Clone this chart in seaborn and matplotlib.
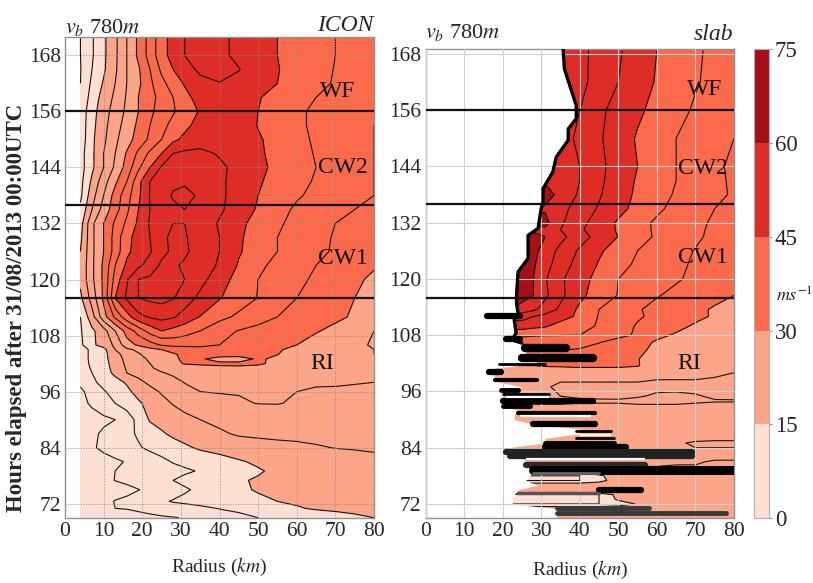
import numpy as np
import matplotlib
matplotlib.use("Agg")
import matplotlib.pyplot as plt
from matplotlib.colors import ListedColormap, BoundaryNorm
import seaborn as sns

radius = [4,7,10,13,16,19,22,25,28,31,35,40,45,50,55,60,65,70,75,80]
band_edges = [0,15,30,45,60,75]
line_levels = [5,10,15,20,25,30,35,40,45,50,55,60,65,70]
band_colors = ["#fee0d2","#fca588","#fb6a4a","#de2d26","#a50f15"]
xticks = [0,10,20,30,40,50,60,70,80]
yticks = [72,84,96,108,120,132,144,156,168]
phase_hours = [156,136,116]

icon_hours = [69,71,72.5,75,77,79,81,84,87,90,93.5,96,98,100,101,102,103,104,105,106,109,112,116,120,123,126,129,132,135,138,141,144,147,150,153,156,159,162,165,168,172]
icon_speed = [
 [1,1.5,2,2.5,3,3.5,4,4.5,4.8,5.2,6,7.5,8.8,10,10.8,11.5,12.2,13,14,15],
 [1.5,2.5,3.6,5,5.2,5.8,6.5,7,7.5,8,9,10.2,11,12,13,14.6,15.5,16,16.5,17],
 [1.5,2.5,3.7,5.2,5.8,6.4,7.5,9.2,10.4,11,11.6,12.3,13,13.8,15,15.6,16.2,16.7,17.2,17.7],
 [1.5,2,2.7,3.3,4,4.9,5.8,6.8,7.8,9.5,10.8,12.3,14,15.5,16,16.5,17,17.5,18,18.5],
 [1.5,2.5,4,5.1,5.8,6.6,7.8,9,10,11,12,13,14.5,15.5,16.2,16.8,17.3,17.8,18.3,18.7],
 [1.5,2.5,3.5,5,5.5,6.2,7,7.8,8.5,9.4,10.3,11.5,12.7,14.5,16,16.7,17.2,17.7,18.2,18.6],
 [1.5,2.5,3.3,4.3,5.3,6.6,7.8,9,10.3,11,11.8,12.8,14.5,15.8,16.5,17,17.5,18,18.5,19],
 [2,4.4,6,7.2,8.4,9.6,10.8,11.8,12.8,14.2,15.7,17,17.8,18.3,18.8,19.2,19.7,20.1,20.3,20.5],
 [2,4,5.8,7.5,9,10.5,12.5,14.4,16,17,18,19.4,20.5,20.8,21,21,21,21,21,21],
 [2,3,4,5,7.5,11.5,15.5,16.7,17.5,18.5,20,21,22,22,22,22,22,21.5,21.5,21.5],
 [3.5,5.8,8,10,12,14.3,16.5,18.5,20.3,22,23.5,24,24.6,25.1,25.2,24.5,24,23.5,23,22.5],
 [4,7,9.5,12,14,16.5,18.5,20.5,21.8,23.5,25,25.2,25.2,25.1,25.3,25,24.5,24.5,24,23.5],
 [6,9,11.5,13.5,15.5,18.8,21,22.5,23.5,25.2,26,26,26,26,25.8,25.5,25.5,25.4,25.3,25],
 [7,10,13,16,20,21.5,23,24.7,25.8,26.5,27.5,28,27.5,27.5,27,26.8,26.5,26.5,26,25.5],
 [7.5,10.5,13.2,16.5,20.5,22,24.5,26,27,27.5,28,29,29.2,28.6,28,27.5,27,26.5,26,25.5],
 [8,10.8,13.3,17,21,23,25,27,29,30.3,30.8,30.8,30.8,30.6,29,27.8,27.2,26.6,26,25.3],
 [8,11,13.5,17.5,21.5,24,25.5,27.5,29.5,30.5,30.5,28.5,28.5,30.5,29.3,28,27.5,26.8,26,25.2],
 [8,11,13.5,18,22.5,24.5,27,28.5,29.5,31,32,32,31.5,31,30.1,28.5,27.5,26.8,26,25],
 [8,11,13.5,20,24,26,28.5,30,31.5,32,33.5,33,32.5,31.5,30.4,29,28,27,26,25],
 [9,14,17,21,28,30.7,33,35.5,36.5,36.5,36,35,33.5,32.5,31.5,30,28.5,27.5,26,24.5],
 [9.5,14,18,25,32,37,42,45,43.5,42,40,36.5,34.8,33.5,32.5,31.5,30.3,29,27.5,25],
 [10,18,28,36,43,48.5,50.5,51.5,50.5,48,44.8,41.5,39,37,35,33.5,32,30.8,29.5,27],
 [14,22,31,45,50.7,55,56,56.5,55.3,52.5,48.8,45.3,42.5,39.8,37.3,35,33.5,32,30,28],
 [16,24,31,42,49.5,55,56,57,56,55,51.5,47.5,43,40,38,35.7,34.5,33,31,29],
 [16,24,31,40,46,49,52,56,56,54,52,49.5,44.5,41,38.7,36.7,35,33.5,32,30.5],
 [15,24,30,37,44,47,49.5,53.5,56,56,52.5,50,45.5,42.5,40,38,36,34.5,33,32],
 [14,24,30,37,43.5,47,50,54,56,55.5,52.5,50,45.7,42.8,40,38,36,34.7,33.5,32.5],
 [13,24,30,36,41,46,50.5,52.5,55,55,53,49.5,46,43.5,40.5,39,37.5,35,34,33],
 [11,20,27,33,39,45,50,52.5,54,55,53.5,50.8,47.5,44.5,41.5,39.3,37.5,36,35,33.5],
 [9,18,25,32,38,44,50.3,53,55.5,56,54.5,51,48,45,43,40.5,39,37.5,36.5,35],
 [8.5,16,23,29,35,43.5,50,52,54,54.5,54,51,48,45.5,43.5,41.5,39.5,38,37,35],
 [8,14,20,26,32,39,45,50.5,52.5,54,54,51,48.5,46,44,42,40,38.5,37,35],
 [8,14,20,25,30.5,36,41,45,50,51,51.3,49.5,47.5,45.7,43.7,41.5,39.7,38.5,37,35],
 [7,14,19,24,28,32,36,40,44,46,47.5,49,48,45.5,43.5,41,39.5,38.5,37,35],
 [7,13.5,18.5,23,27,31,35,38.5,41.5,44,46.5,48.5,47.5,44.8,43,41,39,38,37,35],
 [7,13,18,22,26,30,34,37,39.5,42,45.5,48,47,45,43,41,39,38,37,35.5],
 [6,12,17,21,25.5,30,33.5,36.5,40,43.5,47,49,47,45.3,43.5,41.8,40,38.5,37.5,36.5],
 [5,11,15.5,20,25,29,34,38.5,42.5,45.5,48.5,49.8,48.5,46.5,45,43,41.5,39.5,38.5,37],
 [4.8,10,14.3,19.2,25,29.3,35,41,45,48,51,52,50.2,47.5,45.2,43.5,41.5,39.8,38.5,37],
 [5,9.5,14,19,25,31,37,43,47,50,52,51,49,47,45,43.5,41.5,40,38,37],
 [5,9.5,14,19,25,31,37,43,47,50,52,51,49,47,45,43.5,41.5,40,38,37],
]

slab_hours = [69,70,70.5,71,72,73,74,74.5,76,77,78,79,81,82,83,85,86,92.5,94,95,97,100,101.5,103,105,106.5,108,110,112,113.5,116.5,120,123,126,129,130.5,132,135,138,141,144,150,156,162,169]
slab_speed = [
 [19,19,19,19,19,19,19,19,19,19,19,19,19,19,19,19,19,19,19,19],
 [13,13,13,13,13,13,13,13,13,13,13,13,14,18,19,19,19,19,19,19],
 [12,12,12,12,12,12,12,12,12,12,12,12,13,14,18,19,19,19,19,19],
 [19,19,19,19,19,19,19,19,19,19,19,19,19,19,19,19,19,19,19,19],
 [10,10,10,10,10,10,10,10,10,10,10,10,10,12,15.5,19,19,19,19,19],
 [9,9,9,9,9,9,9,9,9,9,9,9,10,16,19,19,19,19,19,19],
 [9,9,9,9,9,9,9,9,9,9,9,9,10,17,19,19,19,19,19,19],
 [19,19,19,19,19,19,19,19,19,19,19,19,19,19,19,19,19,19,19,19],
 [19,19,19,19,19,19,19,19,19,19,19,19,19,19,19,19,19,19,19,19],
 [10,10,10,10,10,10,10,10,10,10,10,10,13,18,19,19,19,19,19,19],
 [10,10,10,10,10,10,10,10,10,10,10,10,14,18,19,19,19,19,19,19],
 [19,19,19,19,19,19,19,19,19,19,19,19,19,19,19,19,19,19,19,19],
 [21,21,21,21,21,21,21,21,21,21,21,21,21,21,21,21,20.5,20.5,19.5,19.5],
 [21,21,21,21,21,21,21,21,21,21,21,21,21,21,21,21,21,21,21,21],
 [21,21,21,21,21,21,21,21,21,21,21,21,21,21,21,21,21,21,21,21],
 [22,22,22,22,22,22,22,22,22,22,22,22,22,22,22,22,21,19,19,19],
 [22,22,22,22,22,22,22,22,22,22,22,22,22,22,22,22,22,22,21,21],
 [24,24,24,24,24,24,24,24,24,24,24,24,24,24,24,24,24,24,24,24],
 [26,26,26,26,26,26,26,26,26,26,26,25.5,25.5,25.5,26,26,26,25.5,25.2,25.2],
 [26,26,26,26,26,26,26,26,26,26,25,24.5,24.2,24,24.6,25.6,25.8,25.3,24.5,24.3],
 [26,26,26,26,26,26,26,26,25.6,25.3,24.5,24,24,24,24,24,24,24,24,24],
 [26,26,26,26,26,26,26,26,26,26,26,27,27,27,27,26,26,26,25.5,25],
 [30,30,30,30,30,30,30,30,30,30.5,30.8,31,31,31,30.3,27.5,27,26.5,26,25.5],
 [32,32,32,32,32,32,32,32,32,32,32,32,31.5,31,30.2,28,27.5,27,26.5,25.5],
 [35.2,35.2,35.2,35.2,35.2,35.2,35.2,35.2,35.2,35.2,35.2,34.9,33.5,32,30.8,29.2,28,27,26.5,25.5],
 [37,37,37,37,37,37,37,37,37,36.5,36,36,35.2,33.5,31.5,29.5,28.5,27.5,26.8,25.5],
 [41,41,41,41,41,41,41,41,40.5,40.3,40.2,40,38,36,34.5,31,29.5,28.3,27.3,26],
 [47.5,47.5,47.5,47.5,47.5,47.5,47.5,47.5,46.5,45.7,43.2,41.8,39.5,36.9,34.6,32.8,31.2,29.5,28.3,27],
 [52,52,52,52,52,52,52,52,50,48.5,47,44,39.7,37.5,35.5,34,32.5,31,29.5,28],
 [60,60,60,60,60,60,60,58,56,53,49,44,40,37.3,35.4,33.7,32.5,31,29.5,28],
 [64,64,64,64,64,64,64,62,60,56,51.2,46.2,42.7,39.8,37.5,35.3,33.9,32.6,31.3,30],
 [63,63,63,63,63,63,63,62.5,60,55.5,50.8,46.9,43.4,40,38.5,37,35.5,34,32.8,31.5],
 [63,63,63,63,63,63,63,62.5,60.6,56.9,52.4,48,44.6,41.5,39.2,37.5,35.9,34.4,33,31.5],
 [64,64,64,64,64,64,64,64,61.5,57.9,53.6,49.3,45.7,42.8,40,38.2,36.4,34.8,33.5,32],
 [62,62,62,62,62,62,62,62,62,60,56.4,52,48.3,44.9,41.8,39.4,37.5,35.7,34,32.5],
 [59,59,59,59,59,59,59,59,59,59,55,50.7,47.5,44.5,41.6,39.3,37.5,35.8,34.2,32.7],
 [61,61,61,61,61,61,61,61,61,61.5,55.8,51.5,47.7,44.4,41.5,39.3,37.6,36,34.4,33],
 [59,59,59,59,59,59,59,59,59,59.5,56.5,53,49.5,46.5,43.5,40.8,38.8,37,35,33.5],
 [61,61,61,61,61,61,61,61,61,61.5,59,54.2,50.5,47,44.2,41.8,39.5,37.8,36,34.5],
 [59.5,59.5,59.5,59.5,59.5,59.5,59.5,59.5,59.5,59.5,58,55,51,47.5,44.5,42.2,40,38,36,34.3],
 [57,57,57,57,57,57,57,57,57,57,57,55,51.2,47.9,45,42.5,40,38,36,34],
 [57,57,57,57,57,57,57,57,57,57,57,54,50.6,47.5,44.5,42.3,40,38.2,36.5,35],
 [57,57,57,57,57,57,57,57,57,57,57,55,50.8,48.6,45.9,43.5,41.5,39.4,38,36.5],
 [58,58,58,58,58,58,58,58,58,58,58,56,53.6,50,47.2,44.6,42.5,40.4,38.8,37],
 [58,58,58,58,58,58,58,58,58,58,58,56,53.8,50.6,47.8,45,42.9,40.8,38.8,37],
]

edge_hours = [69,70.5,71,72,73,74,75,76,77,78,79,80,81,82,83,84,85,86,87,88,89,90,91,92,93,94,95,96,97,98,99,100,101,102,103,104,105,106.3,107,108.5,111.3,112.7,114.9,116.5,121.5,124.4,129.3,130.8,135,136.5,139.3,142.8,146,149.6,152,154.2,157,161.3,164.9,169]
edge_radius = [34,34,34,22.5,22.5,23,24,29,26,27,28.5,26,26,25,22,21.5,31,31,40,40,28,23,23,24,20,20,20,20,25,19,18,17,18,30,26,26,26,25,22.5,23.5,23,24,23.6,23.6,24,26.6,26.6,29.2,30,30.5,30.5,33,33.9,37,37,39.1,39.1,37.4,36,35.7]
rim_hours = edge_hours[37:]
rim_radius = edge_radius[37:]

bar_hours = [112.2,107.2,105.3,103.1,101.9,100.1,98.5,96.4,95.5,93.9,92.8,91.5,89,87.5,86.1,85.1,84.2,83.1,82.2,80.4,79.3,78.7,75,74.3,71.1,70]
bar_start = [16,21,25.7,25,19,16.5,18,19.5,20,20,20,24,28,39,39,31,31,21,22,26,28,28,45,24,34,34]
bar_end = [24.5,24.5,36.5,43.4,31,19.5,29,24,32,43.5,27,44,44,48,49,49,52,69,69,57,80,45,56,45,58,78]
bar_width = [4.5,4.5,6,6,2,4.5,3,3.5,2,4.5,3.5,3,4.5,2,2,3.5,4.5,4.5,4.5,4.5,6.5,2,4.5,2.5,3.5,3.5]
bar_tone = ["#000000"]*16 + ["#000000","#222222","#222222","#2a2a2a","#000000","#666666","#000000","#555555","#3a3a3a","#3a3a3a"]
gap_hours = [94.8,86.8,81.5,90.7]
gap_start = [21,40,26,24.5]
gap_end = [32,48,57,43]

phase_labels = ["WF","CW2","CW1","RI"]
icon_label_x = [70.5,72,72,66.5]
icon_label_y = [160.2,144,124.5,102]
slab_label_x = [72.5,72,72,68.5]
slab_label_y = [160.5,143.5,124.5,102]

sns.set_style("white")
plt.rcParams["font.family"] = ["Liberation Serif", "DejaVu Serif"]
plt.rcParams["mathtext.fontset"] = "stix"
palette = sns.color_palette(band_colors)
cmap = ListedColormap(palette)
norm = BoundaryNorm(band_edges, cmap.N)

W, H = 813, 583
fig = plt.figure(figsize=(W/100, H/100), dpi=100)
def box(x0, y0, x1, y1):
    return [x0/W, 1-y1/H, (x1-x0)/W, (y1-y0)/H]
ax1 = fig.add_axes(box(65, 36.7, 374, 517.7))
ax2 = fig.add_axes(box(425.5, 49.3, 734, 518))
cax = fig.add_axes(box(754, 49.3, 769.3, 518))

def panel(ax, hours, speed, ylim):
    cf = ax.contourf(radius, hours, np.array(speed), levels=band_edges, cmap=cmap, norm=norm, zorder=1)
    ax.contour(radius, hours, np.array(speed), levels=line_levels, colors="#151515", linewidths=0.8, zorder=2)
    ax.set_xlim(0, 80)
    ax.set_ylim(*ylim)
    ax.set_xticks(xticks)
    ax.set_yticks(yticks)
    ax.tick_params(labelsize=15.5, length=0, pad=3)
    ax.set_axisbelow(False)
    for s in ax.spines.values():
        s.set_color("#909090")
        s.set_linewidth(1)
    return cf

cf = panel(ax1, icon_hours, icon_speed, (69, 172))
panel(ax2, slab_hours, slab_speed, (69, 169))

ax1.grid(True, color="#8c8c8c", linestyle=":", linewidth=0.7)
ax2.grid(True, color="#cfcfcf", linestyle="-", linewidth=0.8)

ax2.fill_betweenx(edge_hours, 0, edge_radius, color="white", linewidth=0, zorder=2.2)
sns.lineplot(x=rim_radius, y=rim_hours, sort=False, estimator=None, color="black", linewidth=2.4, ax=ax2, zorder=3)
ax2.hlines(bar_hours, bar_start, bar_end, colors=bar_tone, linewidths=bar_width, capstyle="round", zorder=3)
ax2.hlines(gap_hours, gap_start, gap_end, colors="white", linewidths=1.6, zorder=3.1)

for ax in (ax1, ax2):
    for h in phase_hours:
        ax.axhline(h, color="#111111", linewidth=1.6, zorder=4)

for t, x, y in zip(phase_labels, icon_label_x, icon_label_y):
    ax1.text(x, y, t, fontsize=17, ha="center", va="center", color="#111111", zorder=5)
for t, x, y in zip(phase_labels, slab_label_x, slab_label_y):
    ax2.text(x, y, t, fontsize=17, ha="center", va="center", color="#111111", zorder=5)

fig.text(65/W, 1-33/H, r"$v_b$ 780$m$", fontsize=16, ha="left", va="baseline")
fig.text(373/W, 1-31/H, "ICON", fontsize=17, style="italic", ha="right", va="baseline")
fig.text(425/W, 1-38/H, r"$v_b$ 780$m$", fontsize=16, ha="left", va="baseline")
fig.text(733/W, 1-40/H, "slab", fontsize=17, style="italic", ha="right", va="baseline")

fig.text(17/W, 1-308/H, "Hours elapsed after 31/08/2013 00:00UTC", rotation=90, fontsize=16.5,
         fontweight="bold", ha="center", va="center")
fig.text(219/W, 1-567/H, r"Radius ($km$)", fontsize=14, ha="center", va="center")
fig.text(580/W, 1-570/H, r"Radius ($km$)", fontsize=14, ha="center", va="center")

cb = fig.colorbar(cf, cax=cax, ticks=band_edges)
cb.ax.tick_params(labelsize=16.5, length=2, pad=2, color="#909090")
cb.outline.set_edgecolor("#b0b0b0")
cb.outline.set_linewidth(0.8)
fig.text(776/W, 1-296/H, r"$ms^{-1}$", fontsize=13, ha="left", va="center")

fig.savefig("out.png", dpi=100)
